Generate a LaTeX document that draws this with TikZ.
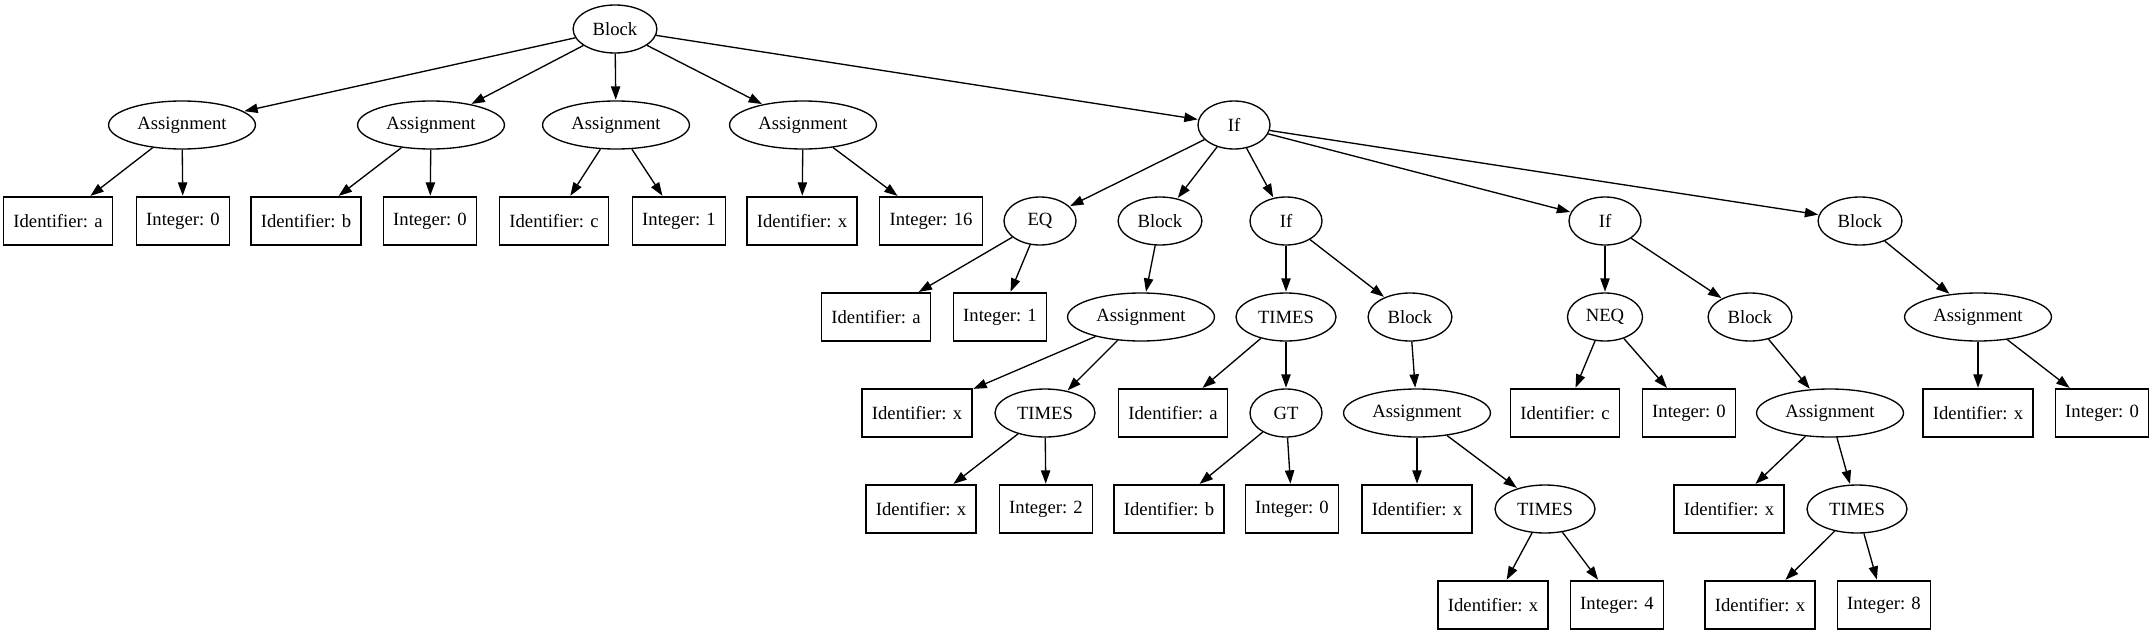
\documentclass[tikz,border=0pt]{standalone}
\usepackage{fontspec}
\setmainfont{Liberation Serif}
\usepackage{tikz}
\usetikzlibrary{arrows.meta}
\usetikzlibrary{shapes.geometric}
\tikzstyle{every node}=[draw, line width=1pt, font=\fontsize{14pt}{16pt}\selectfont, minimum height=36pt]
\tikzstyle{inner}=[ellipse, inner xsep=5.5pt, inner ysep=0pt, minimum width=54pt]
\tikzstyle{leaf}=[rectangle, inner xsep=7.5pt, minimum width=54pt]
\tikzset{->-/.style={line width=1pt, -{Triangle[length=10pt,width=7pt]}, shorten >=0.5pt}}

\begin{document}
\begin{tikzpicture}[x=0.75pt, y=-0.75pt]
		\useasboundingbox (0,0) rectangle (2154,635);
		% rank 0
		\node[inner] (root) at (615,29) {Block};
		% rank 1
		\node[inner] (asgA) at (182,125) {Assignment};
		\node[inner] (asgB) at (431,125) {Assignment};
		\node[inner] (asgC) at (616,125) {Assignment};
		\node[inner] (asgX) at (803,125) {Assignment};
		\node[inner] (ifOuter) at (1234,125) {If};
		% rank 2
		\node[leaf] (idA) at (58,221) {Identifier: a};
		\node[leaf] (intA) at (183,221) {Integer: 0};
		\node[leaf] (idB) at (306,221) {Identifier: b};
		\node[leaf] (intB) at (430,221) {Integer: 0};
		\node[leaf] (idC) at (554,221) {Identifier: c};
		\node[leaf] (intC) at (679,221) {Integer: 1};
		\node[leaf] (idX) at (802,221) {Identifier: x};
		\node[leaf] (intX) at (931,221) {Integer: 16};
		\node[inner] (eq) at (1040,221) {EQ};
		\node[inner] (thenBlock) at (1160,221) {Block};
		\node[inner] (ifGt) at (1286,221) {If};
		\node[inner] (ifNeq) at (1605,221) {If};
		\node[inner] (elseBlock) at (1860,221) {Block};
		% rank 3
		\node[leaf] (eqId) at (876,317) {Identifier: a};
		\node[leaf] (eqInt) at (1000,317) {Integer: 1};
		\node[inner] (thenAsg) at (1141,317) {Assignment};
		\node[inner] (gtTimes) at (1286,317) {TIMES};
		\node[inner] (gtBlock) at (1410,317) {Block};
		\node[inner] (neq) at (1605,317) {NEQ};
		\node[inner] (neqBlock) at (1750,317) {Block};
		\node[inner] (elseAsg) at (1978,317) {Assignment};
		% rank 4
		\node[leaf] (thenId) at (917,413) {Identifier: x};
		\node[inner] (thenTimes) at (1045,413) {TIMES};
		\node[leaf] (gtTimesId) at (1173,413) {Identifier: a};
		\node[inner] (gt) at (1286,413) {GT};
		\node[inner] (gtAsg) at (1417,413) {Assignment};
		\node[leaf] (neqId) at (1565,413) {Identifier: c};
		\node[leaf] (neqInt) at (1689,413) {Integer: 0};
		\node[inner] (neqAsg) at (1830,413) {Assignment};
		\node[leaf] (elseId) at (1978,413) {Identifier: x};
		\node[leaf] (elseInt) at (2102,413) {Integer: 0};
		% rank 5
		\node[leaf] (thenTimesId) at (921,509) {Identifier: x};
		\node[leaf] (thenTimesInt) at (1046,509) {Integer: 2};
		\node[leaf] (gtId) at (1169,509) {Identifier: b};
		\node[leaf] (gtInt) at (1292,509) {Integer: 0};
		\node[leaf] (gtAsgId) at (1417,509) {Identifier: x};
		\node[inner] (gtAsgTimes) at (1545,509) {TIMES};
		\node[leaf] (neqAsgId) at (1729,509) {Identifier: x};
		\node[inner] (neqAsgTimes) at (1857,509) {TIMES};
		% rank 6
		\node[leaf] (fourId) at (1493,605) {Identifier: x};
		\node[leaf] (fourInt) at (1617,605) {Integer: 4};
		\node[leaf] (eightId) at (1760,605) {Identifier: x};
		\node[leaf] (eightInt) at (1884,605) {Integer: 8};

		\draw[->-] (root) to (asgA);
		\draw[->-] (root) to (asgB);
		\draw[->-] (root) to (asgC);
		\draw[->-] (root) to (asgX);
		\draw[->-] (root) to (ifOuter);
		\draw[->-] (asgA) to (idA);
		\draw[->-] (asgA) to (intA);
		\draw[->-] (asgB) to (idB);
		\draw[->-] (asgB) to (intB);
		\draw[->-] (asgC) to (idC);
		\draw[->-] (asgC) to (intC);
		\draw[->-] (asgX) to (idX);
		\draw[->-] (asgX) to (intX);
		\draw[->-] (ifOuter) to (eq);
		\draw[->-] (ifOuter) to (thenBlock);
		\draw[->-] (ifOuter) to (ifGt);
		\draw[->-] (ifOuter) to (ifNeq);
		\draw[->-] (ifOuter) to (elseBlock);
		\draw[->-] (eq) to (eqId);
		\draw[->-] (eq) to (eqInt);
		\draw[->-] (thenBlock) to (thenAsg);
		\draw[->-] (thenAsg) to (thenId);
		\draw[->-] (thenAsg) to (thenTimes);
		\draw[->-] (thenTimes) to (thenTimesId);
		\draw[->-] (thenTimes) to (thenTimesInt);
		\draw[->-] (ifGt) to (gtTimes);
		\draw[->-] (ifGt) to (gtBlock);
		\draw[->-] (gtTimes) to (gtTimesId);
		\draw[->-] (gtTimes) to (gt);
		\draw[->-] (gt) to (gtId);
		\draw[->-] (gt) to (gtInt);
		\draw[->-] (gtBlock) to (gtAsg);
		\draw[->-] (gtAsg) to (gtAsgId);
		\draw[->-] (gtAsg) to (gtAsgTimes);
		\draw[->-] (gtAsgTimes) to (fourId);
		\draw[->-] (gtAsgTimes) to (fourInt);
		\draw[->-] (ifNeq) to (neq);
		\draw[->-] (ifNeq) to (neqBlock);
		\draw[->-] (neq) to (neqId);
		\draw[->-] (neq) to (neqInt);
		\draw[->-] (neqBlock) to (neqAsg);
		\draw[->-] (neqAsg) to (neqAsgId);
		\draw[->-] (neqAsg) to (neqAsgTimes);
		\draw[->-] (neqAsgTimes) to (eightId);
		\draw[->-] (neqAsgTimes) to (eightInt);
		\draw[->-] (elseBlock) to (elseAsg);
		\draw[->-] (elseAsg) to (elseId);
		\draw[->-] (elseAsg) to (elseInt);
		\end{tikzpicture}
\end{document}
